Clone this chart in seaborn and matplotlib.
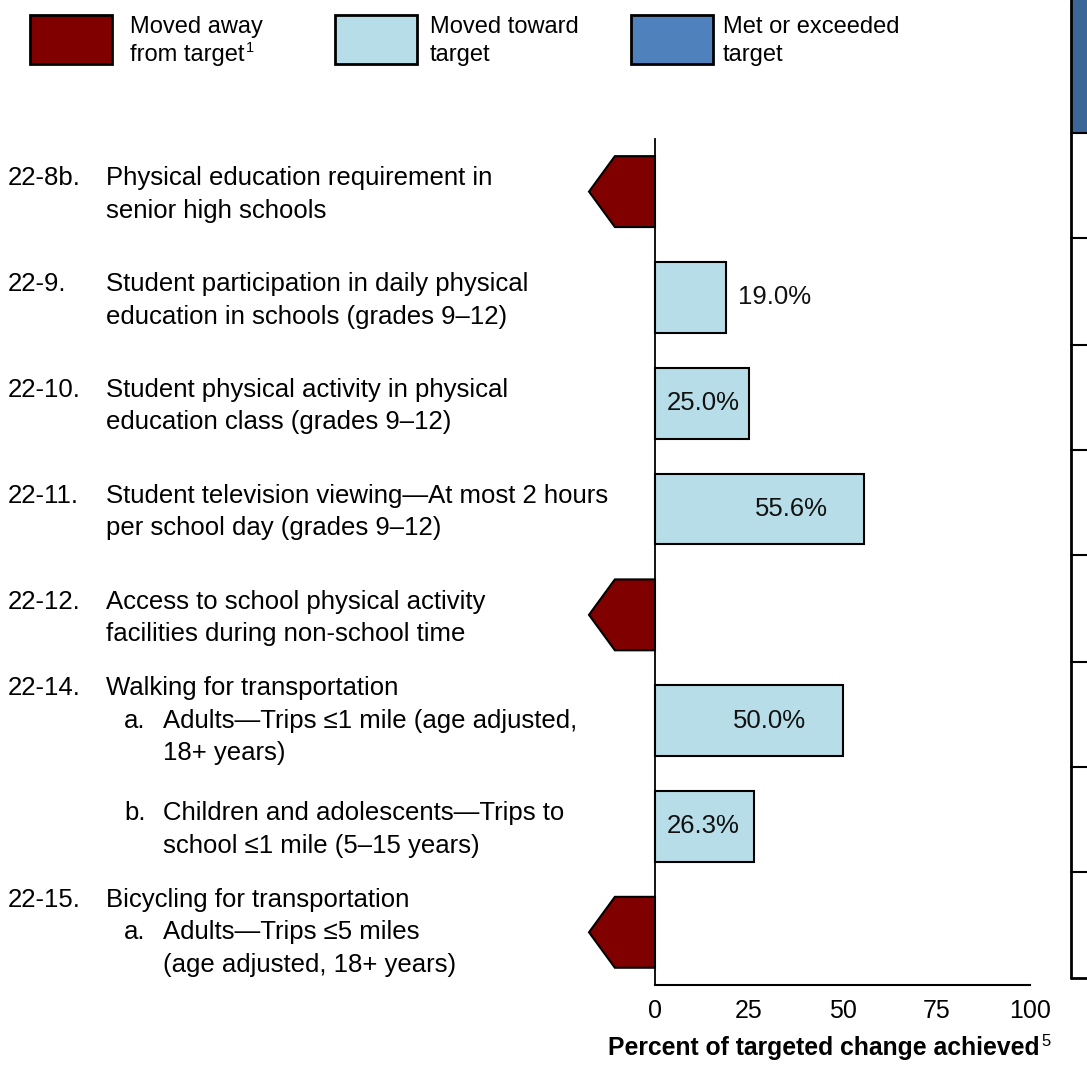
import numpy as np
import pandas as pd
import matplotlib
matplotlib.use("Agg")
import matplotlib.pyplot as plt
from matplotlib.patches import Polygon, Rectangle
from matplotlib.lines import Line2D
from matplotlib.transforms import blended_transform_factory
import seaborn as sns

# ---- data -------------------------------------------------------------
row_ids = ["22-8b", "22-9", "22-10", "22-11", "22-12", "22-14a", "22-14b", "22-15a"]
status = ["away", "toward", "toward", "toward", "away", "toward", "toward", "away"]
pct_achieved = [np.nan, 19.0, 25.0, 55.6, np.nan, 50.0, 26.3, np.nan]

# label lines per row: (number, indent level, text); level 0 = objective, 1 = sub item
row_labels = [
    [("22-8b.", 0, "Physical education requirement in"), ("", 0, "senior high schools")],
    [("22-9.", 0, "Student participation in daily physical"), ("", 0, "education in schools (grades 9–12)")],
    [("22-10.", 0, "Student physical activity in physical"), ("", 0, "education class (grades 9–12)")],
    [("22-11.", 0, "Student television viewing—At most 2 hours"), ("", 0, "per school day (grades 9–12)")],
    [("22-12.", 0, "Access to school physical activity"), ("", 0, "facilities during non-school time")],
    [("22-14.", 0, "Walking for transportation"), ("a.", 1, "Adults—Trips ≤1 mile (age adjusted,"), ("", 1, "18+ years)")],
    [("b.", 1, "Children and adolescents—Trips to"), ("", 1, "school ≤1 mile (5–15 years)")],
    [("22-15.", 0, "Bicycling for transportation"), ("a.", 1, "Adults—Trips ≤5 miles"), ("", 1, "(age adjusted, 18+ years)")],
]

legend_labels = [("Moved away", "from target", "1"), ("Moved toward", "target", ""), ("Met or exceeded", "target", "")]
x_ticks = [0, 25, 50, 75, 100]
x_title = "Percent of targeted change achieved"

# ---- style ------------------------------------------------------------
sns.set_theme(style="white")
plt.rcParams["font.family"] = ["Liberation Sans", "DejaVu Sans"]

C_AWAY = "#800000"
C_TOWARD = "#B7DEE8"
C_MET = "#4F81BD"
C_HEAD = "#3B6698"

FS_LABEL = 18.5
FS_VALUE = 18.5
FS_TICK = 18
FS_LEGEND = 17

W, H = 1087, 1065
fig = plt.figure(figsize=(W / 100, H / 100), dpi=100)

def fx(px):
    return px / W

def fy(py):
    return 1 - py / H

# main axes: x from -20 to 100, rows -0.5..7.5
ax = fig.add_axes([fx(580), fy(985.2), fx(1030) - fx(580), fy(138.7) - fy(985.2)])

df = pd.DataFrame({"row": row_ids, "status": status, "value": pct_achieved})
toward = df[df["status"] == "toward"]

sns.barplot(data=toward, x="value", y="row", order=row_ids, orient="h",
            color=C_TOWARD, edgecolor="black", linewidth=1.5, width=0.67,
            saturation=1, ax=ax, errorbar=None)

ax.set_xlim(-20, 100)
ax.set_ylim(7.5, -0.5)

half = 0.67 / 2
for i, st in enumerate(status):
    if st == "away":
        verts = [(0, i - half), (-10.7, i - half), (-17.6, i),
                 (-10.7, i + half), (0, i + half)]
        ax.add_patch(Polygon(verts, closed=True, facecolor=C_AWAY,
                             edgecolor="black", linewidth=1.5, zorder=3))

# value labels
for i, v in enumerate(pct_achieved):
    if np.isnan(v):
        continue
    txt = f"{v:.1f}%"
    if v < 22:
        ax.text(v + 3.0, i, txt, ha="left", va="center", fontsize=FS_VALUE, color="#111111")
    elif v < 40:
        ax.text(3.0, i, txt, ha="left", va="center", fontsize=FS_VALUE, color="#111111")
    else:
        ax.text(v - 9.6, i, txt, ha="right", va="center", fontsize=FS_VALUE, color="#111111")

# spines and ticks
for s in ["top", "right"]:
    ax.spines[s].set_visible(False)
ax.spines["left"].set_position(("data", 0))
ax.spines["left"].set_linewidth(1.3)
ax.spines["left"].set_color("black")
ax.spines["bottom"].set_bounds(0, 100)
ax.spines["bottom"].set_linewidth(1.5)
ax.spines["bottom"].set_color("black")
ax.set_yticks([])
ax.set_xticks(x_ticks)
ax.set_xticklabels([str(t) for t in x_ticks])
ax.tick_params(axis="x", direction="in", length=9, width=1.5, colors="black",
               labelsize=FS_TICK, pad=10)
ax.set_xlabel("")
ax.set_ylabel("")

# left-hand row labels
trans = blended_transform_factory(fig.transFigure, ax.transData)
row_px = 105.8
line_step = 32.5 / row_px
for i, lines in enumerate(row_labels):
    n = len(lines)
    shift = 3 / row_px if n == 2 else 0.0
    for k, (num, level, text) in enumerate(lines):
        y = i + (k - (n - 1) / 2) * line_step + shift
        num_x, text_x = (fx(8), fx(106)) if level == 0 else (fx(124), fx(163))
        if num:
            ax.text(num_x, y, num, transform=trans, ha="left", va="center",
                    fontsize=FS_LABEL, color="black")
        ax.text(text_x, y, text, transform=trans, ha="left", va="center",
                fontsize=FS_LABEL, color="black")

# x-axis title with superscript note
fig.text(fx(1040), fy(1048), x_title, ha="right", va="center",
         fontsize=17.8, fontweight="bold", color="black")
fig.text(fx(1041), fy(1041), "5", ha="left", va="center", fontsize=12, color="black")

# legend
legend_boxes = [(30, C_AWAY), (335, C_TOWARD), (631, C_MET)]
legend_text_x = [130, 430, 723]
for (bx, col), tx, (l1, l2, sup) in zip(legend_boxes, legend_text_x, legend_labels):
    fig.add_artist(Rectangle((fx(bx), fy(64)), fx(82), 49 / H, transform=fig.transFigure,
                             facecolor=col, edgecolor="black", linewidth=2))
    fig.text(fx(tx), fy(27), l1, ha="left", va="center", fontsize=FS_LEGEND, color="black")
    t2 = fig.text(fx(tx), fy(55.5), l2, ha="left", va="center", fontsize=FS_LEGEND, color="black")
    if sup:
        fig.canvas.draw()
        bb = t2.get_window_extent()
        fig.text(bb.x1 / W + fx(1), fy(48.5), sup, ha="left", va="center",
                 fontsize=10.5, color="black")

# adjoining table edge on the right
fig.add_artist(Rectangle((fx(1071), fy(133)), fx(30), 133 / H, transform=fig.transFigure,
                         facecolor=C_HEAD, edgecolor="none"))
fig.add_artist(Line2D([fx(1071), fx(1071)], [fy(0), fy(978)], transform=fig.transFigure,
                      color="black", linewidth=2))
fig.add_artist(Line2D([fx(1071), fx(1090)], [fy(978), fy(978)], transform=fig.transFigure,
                      color="black", linewidth=2))
for py in [133, 238, 345, 450, 555, 662, 767, 872]:
    fig.add_artist(Line2D([fx(1071), fx(1090)], [fy(py), fy(py)], transform=fig.transFigure,
                          color="black", linewidth=1.5))

fig.savefig("out.png", dpi=100, facecolor="white")
